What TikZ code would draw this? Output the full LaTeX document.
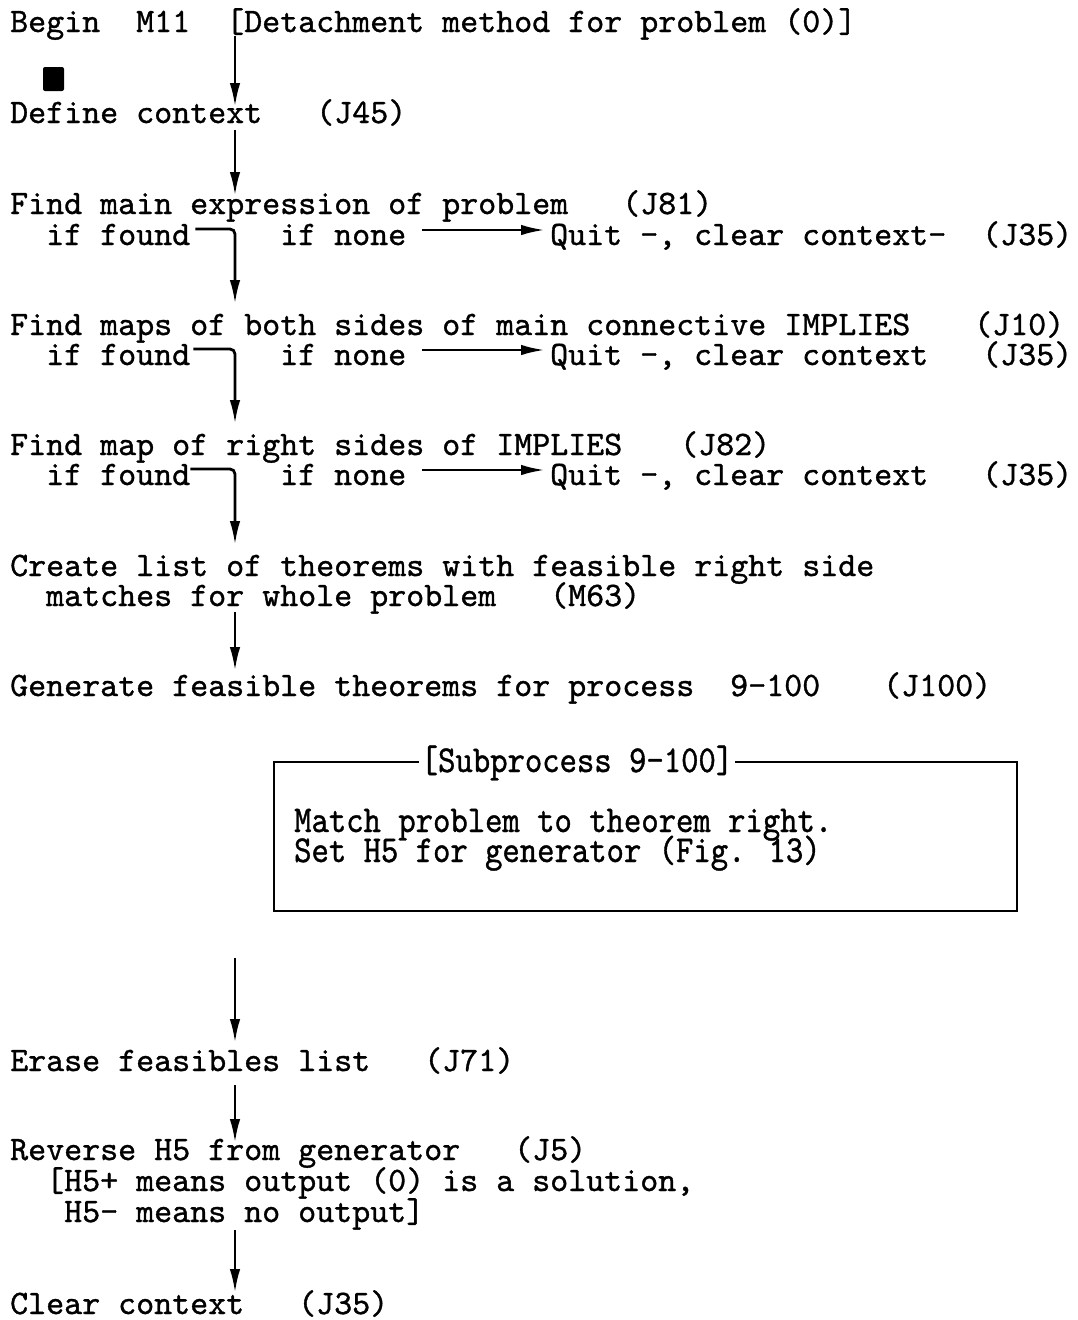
\documentclass[tikz,border=0pt]{standalone}
\usetikzlibrary{arrows.meta}
\font\twA="[lmmono10-regular.otf]:embolden=1.0" at 34.29pt
\font\twB="[lmmono10-regular.otf]:extend=0.87;embolden=1.0" at 38pt
\begin{document}
\begin{tikzpicture}[x=1pt,y=-1pt,
  txt/.style={anchor=base west, inner sep=0pt, text height=21pt, text depth=6pt, font=\twA},
  boxtxt/.style={anchor=base west, inner sep=0pt, text height=22pt, text depth=6pt, font=\twB},
  arr/.style={line width=2.8pt, -{Latex[length=24pt,width=10.5pt]}},
  elbow/.style={line width=2.8pt, rounded corners=5pt, -{Latex[length=24pt,width=10.5pt]}},
  frame/.style={line width=2.2pt}]
\useasboundingbox (0,0) rectangle (1078,1320);
\fill[white] (0,0) rectangle (1078,1320);
\coordinate (sp) at (235,0);

% texts
\node[txt] (L1) at (10,32) {Begin~~M11~~[Detachment method for problem (0)]};
\node[fill=black, inner sep=0pt, minimum width=21pt, minimum height=24pt, rounded corners=2pt] (blot) at (53.5,79) {};
\node[txt] (L2) at (10,123) {Define context~~~(J45)};
\node[txt] (L3) at (10,214) {Find main expression of problem~~~(J81)};
\node[txt] (F1) at (46,245) {if found};
\node[txt] (N1) at (280,245) {if none};
\node[txt] (Q1) at (550,245) {Quit -, clear context-};
\node[txt] (J1) at (982,245) {(J35)};
\node[txt] (L4) at (10,335) {Find maps of both sides of main connective IMPLIES};
\node[txt] (J10) at (974,335) {(J10)};
\node[txt] (F2) at (46,365) {if found};
\node[txt] (N2) at (280,365) {if none};
\node[txt] (Q2) at (550,365) {Quit -, clear context};
\node[txt] (J2) at (982,365) {(J35)};
\node[txt] (L5) at (10,455) {Find map of right sides of IMPLIES};
\node[txt] (J82) at (680,455) {(J82)};
\node[txt] (F3) at (46,485) {if found};
\node[txt] (N3) at (280,485) {if none};
\node[txt] (Q3) at (550,485) {Quit -, clear context};
\node[txt] (J3) at (982,485) {(J35)};
\node[txt] (L6) at (10,576) {Create list of theorems with feasible right side};
\node[txt] (L7) at (46,606) {matches for whole problem};
\node[txt] (M63) at (550,606) {(M63)};
\node[txt] (L8) at (10,696) {Generate feasible theorems for process};
\node[txt] (P9) at (730,696) {9-100};
\node[txt] (J100) at (883,696) {(J100)};

% subprocess box
\coordinate (bTL) at (274,762);
\coordinate (bBR) at (1017,911);
\node[boxtxt, anchor=base, inner xsep=2pt] (T) at (577,772) {[Subprocess 9-100]};
\node[boxtxt] (B1) at (294,832) {Match problem to theorem right.};
\node[boxtxt] (B2) at (294,862) {Set H5 for generator (Fig. 13)};
\draw[frame] (T.west |- bTL) -- (bTL) -- (bTL |- bBR) -- (bBR) -- (bBR |- bTL) -- (T.east |- bTL);

\node[txt] (L9) at (10,1071) {Erase feasibles list};
\node[txt] (J71) at (424,1071) {(J71)};
\node[txt] (L10) at (10,1160) {Reverse H5 from generator};
\node[txt] (J5) at (514,1160) {(J5)};
\node[txt] (L11) at (46,1191) {[H5+ means output (0) is a solution,};
\node[txt] (L12) at (64,1222) {H5- means no output]};
\node[txt] (L13) at (10,1314) {Clear context};
\node[txt] (J35e) at (298,1314) {(J35)};
\coordinate (s10) at (235,958);

% connectors
\draw[arr] ([yshift=-4pt]L1.base -| sp) -- ([yshift=16pt]L2.base -| sp);
\draw[arr] ([yshift=-7pt]L2.base -| sp) -- ([yshift=18pt]L3.base -| sp);
\draw[elbow] ([xshift=5pt,yshift=16pt]F1.base east) -- ([yshift=16pt]F1.base east -| sp) -- ([yshift=31pt]L4.base -| sp);
\draw[arr] ([xshift=16pt,yshift=15pt]N1.base east) -- ([xshift=-5pt,yshift=15pt]Q1.base west);
\draw[elbow] ([xshift=3pt,yshift=16pt]F2.base east) -- ([yshift=16pt]F2.base east -| sp) -- ([yshift=31pt]L5.base -| sp);
\draw[arr] ([xshift=16pt,yshift=15pt]N2.base east) -- ([xshift=-5pt,yshift=15pt]Q2.base west);
\draw[elbow] ([yshift=16pt]F3.base east) -- ([yshift=16pt]F3.base east -| sp) -- ([yshift=31pt]L6.base -| sp);
\draw[arr] ([xshift=16pt,yshift=15pt]N3.base east) -- ([xshift=-5pt,yshift=15pt]Q3.base west);
\draw[arr] ([yshift=-6pt]L7.base -| sp) -- ([yshift=25pt]L8.base -| sp);
\draw[arr] (s10) -- ([yshift=28pt]L9.base -| sp);
\draw[arr] ([yshift=-14pt]L9.base -| sp) -- ([yshift=17pt]L10.base -| sp);
\draw[arr] ([yshift=-8pt]L12.base -| sp) -- ([yshift=21pt]L13.base -| sp);
\end{tikzpicture}
\end{document}
